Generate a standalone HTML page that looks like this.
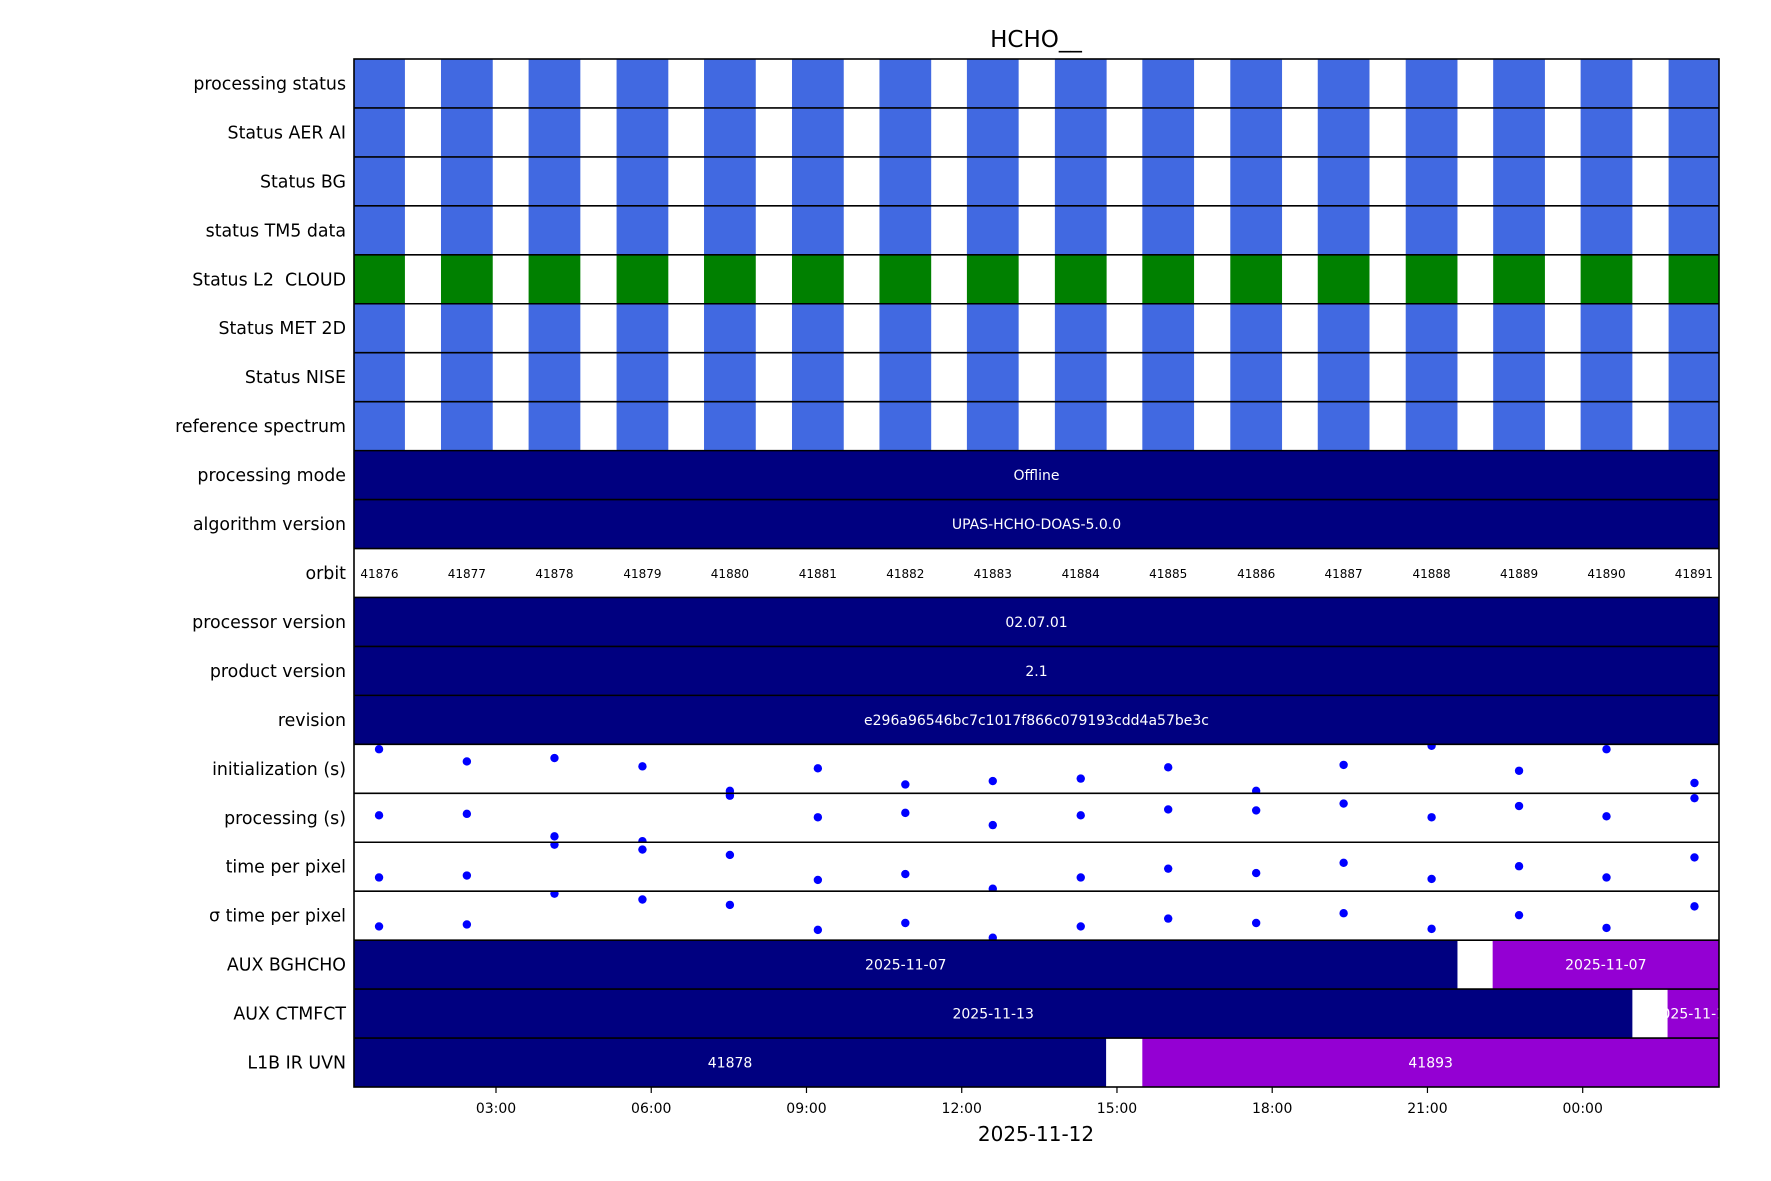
<!DOCTYPE html>
<html><head><meta charset="utf-8"><style>
html,body{margin:0;padding:0;background:#fff;}
svg{display:block;font-family:"DejaVu Sans","Liberation Sans",sans-serif;}
.lbl{white-space:pre;}
</style></head><body>
<svg id="chart" width="1771" height="1181" viewBox="0 0 1771 1181" xmlns="http://www.w3.org/2000/svg">
<defs id="defs"></defs>
<text x="1036" y="47" font-size="23" text-anchor="middle" fill="#000">HCHO__</text>
<g id="rows"></g>
<g id="axes"></g>
<text x="1036" y="1141" font-size="20" text-anchor="middle" fill="#000">2025-11-12</text>
</svg>
<script>
const rowLabels = ["processing status","Status AER AI","Status BG","status TM5 data","Status L2  CLOUD","Status MET 2D","Status NISE","reference spectrum","processing mode","algorithm version","orbit","processor version","product version","revision","initialization (s)","processing (s)","time per pixel","\u03c3 time per pixel","AUX BGHCHO","AUX CTMFCT","L1B IR UVN"];
const orbits = [41876,41877,41878,41879,41880,41881,41882,41883,41884,41885,41886,41887,41888,41889,41890,41891];
const orbitStart = [0.24,1.937,3.63,5.33,7.02,8.72,10.41,12.10,13.80,15.49,17.19,18.88,20.58,22.27,23.96,25.66];
const orbitDuration = 1.0;
const statusRows = ["processing status","Status AER AI","Status BG","status TM5 data","Status L2  CLOUD","Status MET 2D","Status NISE","reference spectrum"];
const textRows = {"processing mode":"Offline","algorithm version":"UPAS-HCHO-DOAS-5.0.0","processor version":"02.07.01","product version":"2.1","revision":"e296a96546bc7c1017f866c079193cdd4a57be3c"};
const initVals = [0.90,0.65,0.72,0.55,0.05,0.51,0.18,0.25,0.30,0.53,0.05,0.58,0.97,0.46,0.90,0.21];
const procVals = [0.55,0.58,0.12,0.02,0.95,0.51,0.60,0.35,0.55,0.67,0.65,0.79,0.51,0.74,0.53,0.90];
const tppVals = [0.28,0.32,0.95,0.85,0.74,0.23,0.35,0.05,0.28,0.46,0.37,0.58,0.25,0.51,0.28,0.69];
const sigmaVals = [0.28,0.32,0.95,0.83,0.72,0.21,0.35,0.05,0.28,0.44,0.35,0.55,0.23,0.51,0.25,0.69];
const auxBgStart = [0.0,22.26];
const auxBgEnd = [21.58,27.0];
const auxBgLabel = ["2025-11-07","2025-11-07"];
const auxCtmStart = [0.0,25.64];
const auxCtmEnd = [24.96,27.0];
const auxCtmLabel = ["2025-11-13","2025-11-14"];
const l1bStart = [0.0,15.49];
const l1bEnd = [14.79,27.0];
const l1bLabel = ["41878","41893"];
const tickHours = [3,6,9,12,15,18,21,24];
const tickLabels = ["03:00","06:00","09:00","12:00","15:00","18:00","21:00","00:00"];
const xMin = 0.256, xMax = 26.634;

const L=354, R=1719, T=59, B=1087;
const NS="http://www.w3.org/2000/svg";
const rowH=(B-T)/rowLabels.length;
function x(h){return L+(h-xMin)/(xMax-xMin)*(R-L);}
function rowTop(i){return T+i*rowH;}
function yIn(i,v){return rowTop(i)+rowH-v*rowH;}
const rows=document.getElementById('rows'), axes=document.getElementById('axes'), defs=document.getElementById('defs');
function mk(tag,attrs,parent){const e=document.createElementNS(NS,tag);for(const k in attrs)e.setAttribute(k,attrs[k]);parent.appendChild(e);return e;}
rowLabels.forEach((lab,i)=>{
  const c=mk('clipPath',{id:'rc'+i},defs);mk('rect',{x:L,y:rowTop(i),width:R-L,height:rowH},c);
  const g=mk('g',{'clip-path':'url(#rc'+i+')'},rows);
  
  
  const t=mk('text',{x:346,y:rowTop(i)+rowH/2+6,'font-size':17.4,'text-anchor':'end',fill:'#000','class':'lbl'},axes);
  t.textContent=lab;
  
  
  const top=rowTop(i),mid=top+rowH/2;
  if(statusRows.includes(lab)){
    const col=lab.indexOf('CLOUD')>=0?'#008000':'#4169e1';
    orbitStart.forEach((s,k)=>{
      const r=mk('rect',{x:x(s),y:top,width:x(s+orbitDuration)-x(s),height:rowH,fill:col},g);
      
      
    });
  } else if(textRows[lab]!==undefined){
    mk('rect',{x:L,y:top,width:R-L,height:rowH,fill:'#000080'},g);
    const tt=mk('text',{x:(L+R)/2,y:mid+5,'font-size':14,'text-anchor':'middle',fill:'#fff'},g);
    tt.textContent=textRows[lab];
    
    
  } else if(lab==='orbit'){
    orbits.forEach((o,k)=>{
      const a=Math.max(orbitStart[k],xMin),b=Math.min(orbitStart[k]+orbitDuration,xMax);
      const tt=mk('text',{x:x((a+b)/2),y:mid+5,'font-size':12,'text-anchor':'middle',fill:'#000'},g);
      tt.textContent=o;
      
      
    });
  } else if(lab.indexOf('(s)')>=0||lab.indexOf('per pixel')>=0){
    const vals=lab.startsWith('init')?initVals:lab.startsWith('processing')?procVals:lab.startsWith('time')?tppVals:sigmaVals;
    vals.forEach((v,k)=>{
      const c=mk('circle',{cx:x(orbitStart[k]+orbitDuration/2),cy:yIn(i,v),r:4.2,fill:'#0000ff'},g);
      
      
    });
  } else {
    let S,E,Lb;
    if(lab==='AUX BGHCHO'){S=auxBgStart;E=auxBgEnd;Lb=auxBgLabel;}
    else if(lab==='AUX CTMFCT'){S=auxCtmStart;E=auxCtmEnd;Lb=auxCtmLabel;}
    else {S=l1bStart;E=l1bEnd;Lb=l1bLabel;}
    S.forEach((s,k)=>{
      const a=Math.max(s,xMin),b=Math.min(E[k],xMax);
      const r=mk('rect',{x:x(a),y:top,width:x(b)-x(a),height:rowH,fill:k===0?'#000080':'#9400d3'},g);
      
      
      const tt=mk('text',{x:(x(a)+x(b))/2,y:mid+5,'font-size':14,'text-anchor':'middle',fill:'#fff'},g);
      tt.textContent=Lb[k];
      
      
    });
  }
});
for(let i=1;i<rowLabels.length;i++){
  const ln=mk('line',{x1:L,x2:R,y1:rowTop(i),y2:rowTop(i),stroke:'#000','stroke-width':1.6},axes);
  
  
}
const fr=mk('rect',{x:L,y:T,width:R-L,height:B-T,fill:'none',stroke:'#000','stroke-width':1.6},axes);


tickHours.forEach((h,k)=>{
  const tl=mk('line',{x1:x(h),x2:x(h),y1:B,y2:B+6,stroke:'#000','stroke-width':1.2},axes);
  
  
  const tt=mk('text',{x:x(h),y:B+26,'font-size':14,'text-anchor':'middle',fill:'#000'},axes);
  tt.textContent=tickLabels[k];
  
  
});
</script>
</body></html>
